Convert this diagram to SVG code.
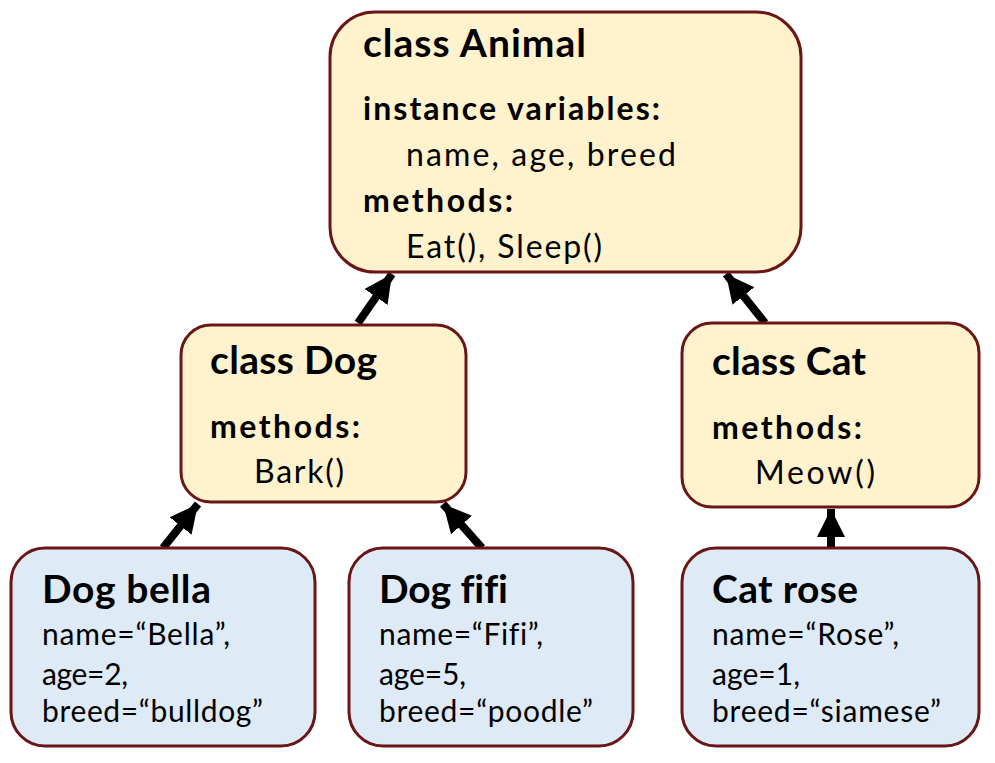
<svg xmlns="http://www.w3.org/2000/svg" width="995" height="763" viewBox="0 0 995 763">
<style>
.cls{fill:#FFF2CC;stroke:#6A1616;stroke-width:3}
.obj{fill:#DEEBF7;stroke:#6A1616;stroke-width:3}
text{font-family:Lato,"Liberation Sans",sans-serif;fill:#000;font-variant-ligatures:none}
.h{font-weight:bold;font-size:39px}
.b{font-weight:bold;font-size:32px}
.t{font-size:32px}
.s{font-size:30px}
.arr{stroke:#000;stroke-width:8;fill:none;marker-end:url(#ah)}
</style>
<defs>
<marker id="ah" markerUnits="userSpaceOnUse" markerWidth="30" markerHeight="30" viewBox="0 0 30 30" refX="28" refY="15" orient="auto">
<path d="M0,1 L28,15 L0,29 Z" fill="#000"/>
</marker>
</defs>
<rect width="995" height="763" fill="#fff"/>
<g id="connectors">
<line class="arr" x1="358" y1="323" x2="392" y2="274"/>
<line class="arr" x1="765" y1="323" x2="726" y2="274"/>
<line class="arr" x1="163" y1="548" x2="198" y2="504"/>
<line class="arr" x1="482" y1="548" x2="443" y2="504"/>
<line class="arr" x1="831" y1="548" x2="831" y2="509"/>
</g>
<g id="animal">
<rect class="cls" x="330" y="12" width="471" height="260" rx="45"/>
<text class="h" x="363" y="57" textLength="223">class Animal</text>
<text class="b" x="363" y="120" textLength="297">instance variables:</text>
<text class="t" x="406" y="166" textLength="270">name, age, breed</text>
<text class="b" x="363" y="212" textLength="150">methods:</text>
<text class="t" x="406" y="258" textLength="196">Eat(), Sleep()</text>
</g>
<g id="dog">
<rect class="cls" x="181" y="325" width="285" height="177" rx="30"/>
<text class="h" x="210" y="374" textLength="167">class Dog</text>
<text class="b" x="210" y="438" textLength="150">methods:</text>
<text class="t" x="254" y="483" textLength="90">Bark()</text>
</g>
<g id="cat">
<rect class="cls" x="682" y="323" width="297" height="184" rx="30"/>
<text class="h" x="712" y="375" textLength="154">class Cat</text>
<text class="b" x="712" y="439" textLength="150">methods:</text>
<text class="t" x="755" y="484" textLength="120">Meow()</text>
</g>
<g id="bella">
<rect class="obj" x="11" y="548" width="304" height="198" rx="34"/>
<text class="h" x="42" y="603" textLength="169">Dog bella</text>
<text class="s" x="42" y="645" textLength="188">name=“Bella”,</text>
<text class="s" x="42" y="685" textLength="86">age=2,</text>
<text class="s" x="42" y="722" textLength="221">breed=“bulldog”</text>
</g>
<g id="fifi">
<rect class="obj" x="349" y="548" width="284" height="198" rx="34"/>
<text class="h" x="379" y="603" textLength="129">Dog fifi</text>
<text class="s" x="379" y="645" textLength="164">name=“Fifi”,</text>
<text class="s" x="379" y="685" textLength="87">age=5,</text>
<text class="s" x="379" y="722" textLength="214">breed=“poodle”</text>
</g>
<g id="rose">
<rect class="obj" x="682" y="548" width="297" height="198" rx="34"/>
<text class="h" x="712" y="603" textLength="146">Cat rose</text>
<text class="s" x="712" y="645" textLength="187">name=“Rose”,</text>
<text class="s" x="712" y="685" textLength="88">age=1,</text>
<text class="s" x="712" y="722" textLength="229">breed=“siamese”</text>
</g>
</svg>
